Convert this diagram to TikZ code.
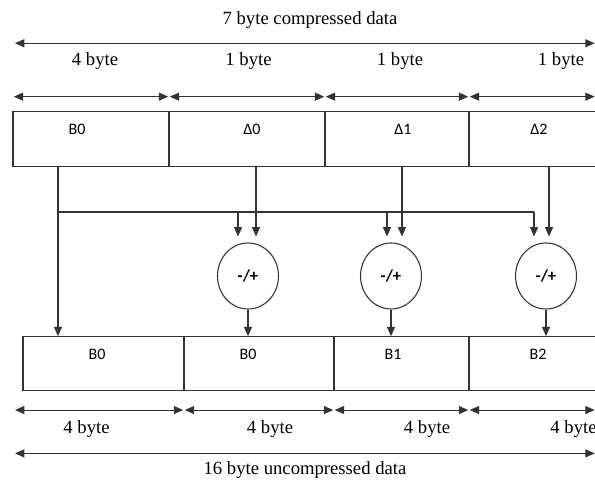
\documentclass[tikz,border=0pt]{standalone}
\usepackage{fontspec}
\setmainfont{Liberation Serif}
\newfontfamily\cellfont{Carlito}
\usetikzlibrary{positioning, arrows.meta, calc, shapes.geometric}

\begin{document}
\begin{tikzpicture}[
  x=0.75pt, y=0.75pt,
  font=\fontsize{14}{16}\selectfont,
  cell/.style={draw=black!80, line width=0.8pt, minimum height=41pt,
    inner sep=0pt, outer sep=0pt},
  lbl/.style={anchor=center, yshift=-13.5pt, font=\cellfont\fontsize{12}{14}\selectfont},
  sum/.style={draw=black!80, line width=0.8pt, ellipse, minimum width=45.75pt,
    minimum height=49.5pt, inner sep=0pt, font=\cellfont\bfseries\fontsize{12.5}{14}\selectfont},
  wire/.style={draw=black!80, line width=0.8pt},
  flow/.style={wire, -{Triangle[length=7pt, width=6pt]}},
  dim/.style={wire, {Triangle[length=7pt, width=6pt]}-{Triangle[length=7pt, width=6pt]}}
]
\clip (0,0) rectangle (595,479);

% compressed block
\node[cell, minimum width=117pt, label={[lbl, xshift=-10.5pt]north:B0}] (cb) at (91,340) {};
\node[cell, minimum width=117pt, label={[lbl, xshift=3.75pt]north:Δ0}] (cd0) at (247,340) {};
\node[cell, minimum width=108pt, label={[lbl, xshift=4.5pt]north:Δ1}] (cd1) at (397,340) {};
\node[cell, minimum width=98.25pt, label={[lbl, xshift=3.4pt]north:Δ2}] (cd2) at (534.5,340) {};

% uncompressed block
\node[cell, minimum width=120.75pt, label={[lbl, xshift=-4.9pt]north:B0}] (ub0) at (103.5,115.5) {};
\node[cell, minimum width=112.5pt, label={[lbl, xshift=-8.25pt]north:B0}] (ub1) at (259,115.5) {};
\node[cell, minimum width=101.25pt, label={[lbl, xshift=-6.4pt]north:B1}] (ub2) at (401.5,115.5) {};
\node[cell, minimum width=98.25pt, label={[lbl, xshift=2.6pt]north:B2}] (ub3) at (534.5,115.5) {};

% adders
\node[sum] (s1) at (248,203) {-/+};
\node[sum] (s2) at (391,203) {-/+};
\node[sum] (s3) at (546,203) {-/+};

% sizes
\node (ctitle) at (310,459) {7 byte compressed data};
\node (cl0) at (95,418) {4 byte};
\node (cl1) at (248.5,418) {1 byte};
\node (cl2) at (400,418) {1 byte};
\node (cl3) at (561,418) {1 byte};
\node (ul0) at (86.5,49.5) {4 byte};
\node (ul1) at (270,49.5) {4 byte};
\node (ul2) at (427,49.5) {4 byte};
\node (ul3) at (573.5,49.5) {4 byte};
\node (utitle) at (305,9) {16 byte uncompressed data};

\draw[dim] ([xshift=1.5pt, yshift=51.3pt]cb.north west) -- ([xshift=-4pt, yshift=51.3pt]cd2.north east);
\draw[dim, shorten <=0.6pt, shorten >=0.6pt] ([yshift=11.25pt]cb.north west) -- ([yshift=11.25pt]cb.north east);
\draw[dim, shorten <=0.6pt, shorten >=0.6pt] ([yshift=11.25pt]cd0.north west) -- ([yshift=11.25pt]cd0.north east);
\draw[dim, shorten <=0.6pt, shorten >=0.6pt] ([yshift=11.25pt]cd1.north west) -- ([yshift=11.25pt]cd1.north east);
\draw[dim, shorten <=0.6pt] ([yshift=11.25pt]cd2.north west) -- ([xshift=-4pt, yshift=11.25pt]cd2.north east);

\draw[dim, shorten >=0.6pt] ([xshift=-6pt, yshift=-14.4pt]ub0.south west) -- ([yshift=-14.4pt]ub0.south east);
\draw[dim, shorten <=0.6pt, shorten >=0.6pt] ([yshift=-14.4pt]ub1.south west) -- ([yshift=-14.4pt]ub1.south east);
\draw[dim, shorten <=0.6pt, shorten >=0.6pt] ([yshift=-14.4pt]ub2.south west) -- ([yshift=-14.4pt]ub2.south east);
\draw[dim, shorten <=0.6pt] ([yshift=-14.4pt]ub3.south west) -- ([xshift=-4pt, yshift=-14.4pt]ub3.south east);
\draw[dim] ([xshift=-6pt, yshift=-46.9pt]ub0.south west) -- ([xshift=-4pt, yshift=-46.9pt]ub3.south east);

% base and deltas
\coordinate (tap) at (58,267);
\coordinate (b1) at (238,267);
\coordinate (b2) at (387,267);
\coordinate (b3) at (534,267);
\coordinate (d1) at (256,267);
\coordinate (d2) at (402,267);
\coordinate (d3) at (549,267);

\draw[flow] (cb.south -| tap) -- (ub0.north -| tap);
\draw[wire] (tap) -- (b3);
\draw[flow, shorten >=4.5pt] (b1) -- (b1 |- s1.north);
\draw[flow, shorten >=4.5pt] (b2) -- (b2 |- s2.north);
\draw[flow, shorten >=4.5pt] (b3) -- (b3 |- s3.north);
\draw[flow, shorten >=4.5pt] (cd0.south -| d1) -- (d1 |- s1.north);
\draw[flow, shorten >=4.5pt] (cd1.south -| d2) -- (d2 |- s2.north);
\draw[flow, shorten >=4.5pt] (cd2.south -| d3) -- (d3 |- s3.north);

\draw[flow] (s1.south) -- (s1.south |- ub1.north);
\draw[flow] (s2.south) -- (s2.south |- ub2.north);
\draw[flow] (s3.south) -- (s3.south |- ub3.north);

\end{tikzpicture}
\end{document}
